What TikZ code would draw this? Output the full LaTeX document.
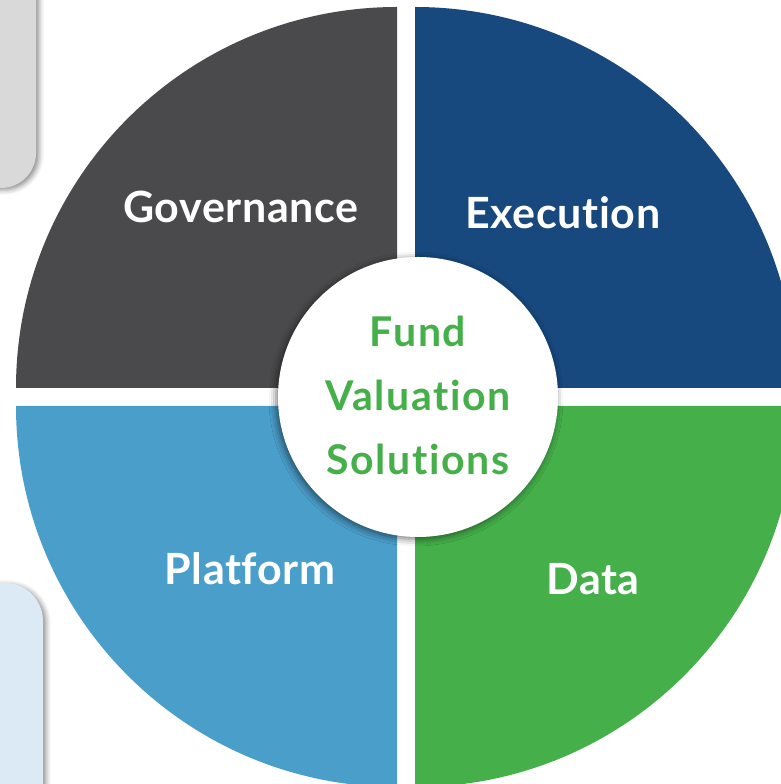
\documentclass[tikz,border=0pt]{standalone}
\usepackage{fontspec}
\setmainfont{Lato}[Ligatures={NoCommon,NoRare}]
\newfontfamily\tagfont{Lato}[Ligatures={NoCommon,NoRare}, LetterSpace=1.5]
\newfontfamily\hubfont{Lato}[Ligatures={NoCommon,NoRare}, LetterSpace=4]
\usetikzlibrary{shadows.blur}
\definecolor{govgray}{HTML}{4A4A4C}
\definecolor{exeblue}{HTML}{17487E}
\definecolor{datagreen}{HTML}{45AF4A}
\definecolor{platblue}{HTML}{4A9ECA}
\definecolor{panelgray}{HTML}{D9D9D9}
\definecolor{panelblue}{HTML}{DBEAF4}
\tikzstyle{panel} = [draw=none, blur shadow={shadow xshift=3pt, shadow yshift=-2pt, shadow blur radius=5pt, shadow opacity=45}]
\tikzstyle{tag} = [text=white, anchor=base, inner sep=0pt, font=\tagfont\fontsize{43}{48}\selectfont\bfseries]
\tikzstyle{hubtext} = [text=datagreen, anchor=base, inner sep=0pt, font=\hubfont\fontsize{41}{48}\selectfont\bfseries]
\tikzstyle{hub} = [circle, fill=white, minimum size=280pt, inner sep=0pt, blur shadow={shadow xshift=-2pt, shadow yshift=-2pt, shadow blur radius=7pt, shadow opacity=55}]

\begin{document}
\begin{tikzpicture}[x=1pt, y=1pt]
		\useasboundingbox (0,0) rectangle (781,784);
		\clip (0,0) rectangle (781,784);
		
		% side panels
		\fill[panelgray, panel, rounded corners=35pt] (-60,596) rectangle (36,830);
		\fill[panelblue, panel, rounded corners=38pt] (-60,-60) rectangle (43,201);
		
		% quarters
		\fill[govgray] (397,396) -- (16,396) arc[start angle=180, end angle=90, radius=381] -- cycle;
		\fill[exeblue] (415,396) -- (415,777) arc[start angle=90, end angle=0, radius=381] -- cycle;
		\fill[datagreen] (415,378) -- (796,378) arc[start angle=0, end angle=-90, radius=381] -- cycle;
		\fill[platblue] (397,378) -- (397,-3) arc[start angle=-90, end angle=-180, radius=381] -- cycle;
		
		% labels
		\node[tag] (governance) at (241,561) {Governance};
		\node[tag] (execution) at (563,555) {Execution};
		\node[tag] (platform) at (250,199) {Platform};
		\node[tag] (data) at (593,189) {Data};
		
		% centre
		\node[hub] (centre) at (418,387) {};
		\node[hubtext] (fund) at (418,437) {Fund};
		\node[hubtext] (valuation) at (418,373) {Valuation};
		\node[hubtext] (solutions) at (418,309) {Solutions};
		
	\end{tikzpicture}
\end{document}
